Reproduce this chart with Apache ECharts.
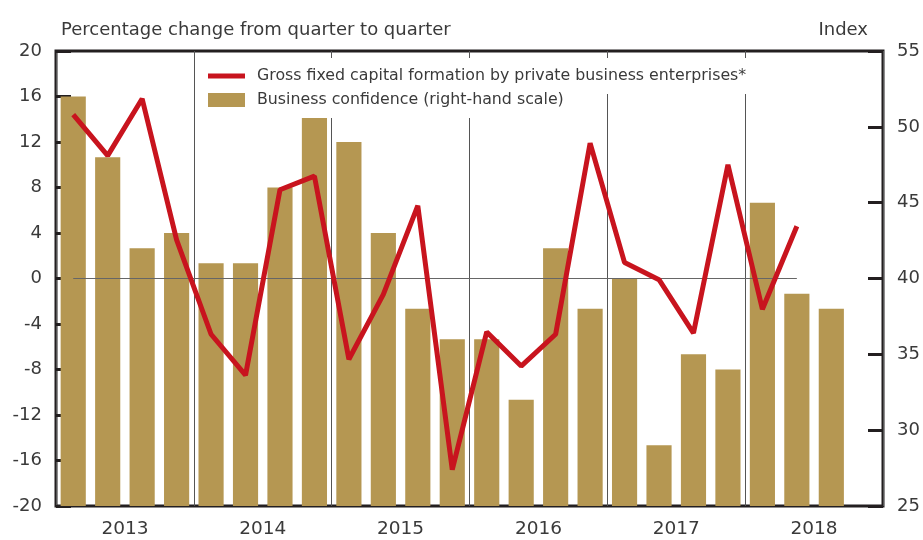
<!DOCTYPE html>
<html>
<head>
<meta charset="utf-8">
<script src="https://cdn.jsdelivr.net/npm/echarts@6/dist/echarts.min.js"></script>
<style>
html,body{margin:0;padding:0;background:#fff;}
#chart{width:923px;height:540px;}
</style>
</head>
<body>
<div id="chart"></div>
<script>
// Data
var quarters = ['2013Q1','2013Q2','2013Q3','2013Q4','2014Q1','2014Q2','2014Q3','2014Q4',
  '2015Q1','2015Q2','2015Q3','2015Q4','2016Q1','2016Q2','2016Q3','2016Q4',
  '2017Q1','2017Q2','2017Q3','2017Q4','2018Q1','2018Q2','2018Q3','2018Q4'];
var years = ['2013','2014','2015','2016','2017','2018'];
var gfcf = [14.4,10.8,15.8,3.4,-4.9,-8.5,7.8,9.0,-7.1,-1.4,6.4,-16.8,-4.7,-7.7,-4.9,11.9,1.4,-0.1,-4.8,10.0,-2.7,4.6,null,null];
var confidence = [52,48,42,43,41,41,46,51,49,43,38,36,36,32,42,38,40,29,35,34,45,39,38,null];
var leftTicks = [-20,20,4];
var rightTicks = [25,55,5];
var lineName = 'Gross fixed capital formation by private business enterprises*';
var barName = 'Business confidence (right-hand scale)';
var zeroLine = 0;

var FONT = 'DejaVu Sans';
var TXT = '#3a3a3a';
var AX = '#231f20';
var RED = '#c8141e';
var TAN = '#b59752';

var chart = echarts.init(document.getElementById('chart'));
var option = {
  animation: false,
  textStyle: {fontFamily: FONT},
  grid: {left: 56, right: 40, top: 51, bottom: 34, show: true, borderColor: AX, borderWidth: 3, backgroundColor: 'transparent'},
  title: [
    {text: 'Percentage change from quarter to quarter', left: 56, top: 16,
     textStyle: {fontFamily: FONT, fontSize: 18, fontWeight: 'normal', color: TXT}},
    {text: 'Index', right: 50, top: 16,
     textStyle: {fontFamily: FONT, fontSize: 18, fontWeight: 'normal', color: TXT}}
  ],
  legend: [
    {data: [{name: lineName, icon: 'rect'}], orient: 'vertical', left: 200, top: 58, padding: [10, 8, 10, 8],
     backgroundColor: '#fff', itemWidth: 37, itemHeight: 5, z: 10,
     textStyle: {fontFamily: FONT, fontSize: 15.8, color: TXT, padding: [0, 0, 0, 7]}},
    {data: [{name: barName, icon: 'rect'}], orient: 'vertical', left: 200, top: 82, padding: [10, 8, 10, 8],
     backgroundColor: '#fff', itemWidth: 37, itemHeight: 14, z: 10,
     textStyle: {fontFamily: FONT, fontSize: 15.8, color: TXT, padding: [0, 0, 0, 7]}}
  ],
  xAxis: [
    {type: 'category', data: quarters, position: 'bottom', boundaryGap: true,
     axisLine: {show: false}, axisTick: {show: false}, axisLabel: {show: false}, splitLine: {show: false}},
    {type: 'category', data: years, position: 'bottom', boundaryGap: true,
     axisLine: {show: false}, axisTick: {show: false},
     axisLabel: {fontFamily: FONT, fontSize: 18.5, color: TXT, margin: 14},
     splitLine: {show: true, lineStyle: {color: '#555', width: 1}}}
  ],
  yAxis: [
    {type: 'value', min: leftTicks[0], max: leftTicks[1], interval: leftTicks[2], position: 'left',
     axisLine: {show: false}, axisTick: {show: true, inside: true, length: 15, lineStyle: {color: AX, width: 3}},
     axisLabel: {fontFamily: FONT, fontSize: 18, color: TXT, margin: 14},
     splitLine: {show: false}},
    {type: 'value', min: rightTicks[0], max: rightTicks[1], interval: rightTicks[2], position: 'right',
     axisLine: {show: false}, axisTick: {show: true, inside: true, length: 15, lineStyle: {color: AX, width: 3}},
     axisLabel: {fontFamily: FONT, fontSize: 18, color: TXT, margin: 14},
     splitLine: {show: false}}
  ],
  series: [
    {name: barName, type: 'bar', xAxisIndex: 0, yAxisIndex: 1, data: confidence,
     barWidth: '73%', itemStyle: {color: TAN}, z: 2},
    {name: lineName, type: 'line', xAxisIndex: 0, yAxisIndex: 0, data: gfcf,
     symbol: 'none', lineStyle: {color: RED, width: 5}, itemStyle: {color: RED}, z: 5,
     markLine: {silent: true, symbol: 'none', label: {show: false}, z: 4,
       lineStyle: {color: '#666', width: 1.2, type: 'solid'},
       data: [[{xAxis: 0, yAxis: zeroLine}, {xAxis: 21, yAxis: zeroLine}]]}}
  ]
};
chart.setOption(option);
</script>
</body>
</html>
